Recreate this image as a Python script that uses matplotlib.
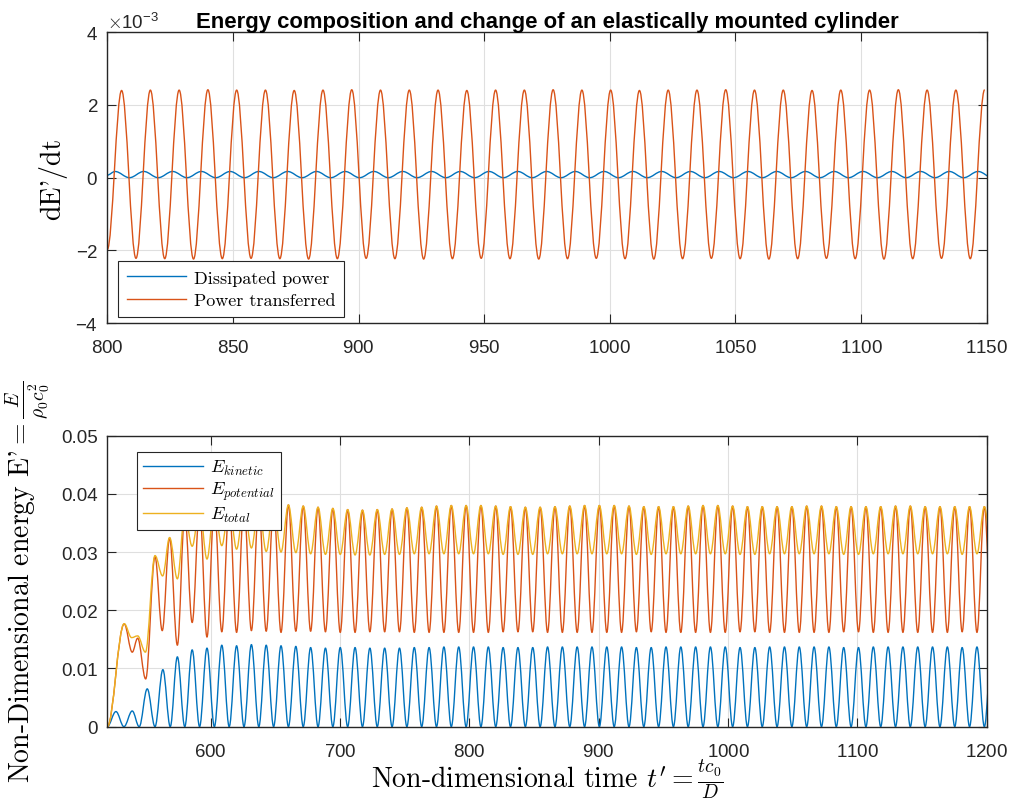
import numpy as np
import matplotlib
matplotlib.use("Agg")
import matplotlib.pyplot as plt
from matplotlib.path import Path
from matplotlib.patches import PathPatch
from matplotlib.lines import Line2D
from matplotlib.ticker import FuncFormatter

plt.rcParams['font.family'] = 'Liberation Sans'
plt.rcParams['mathtext.fontset'] = 'cm'
plt.rcParams['axes.formatter.use_mathtext'] = True

BLUE, ORANGE, YELLOW = '#0072BD', '#D95319', '#EDB120'
HALF = 5.725  # half period of the oscillation (time units)

# ---- power balance, 800 < t < 1150 (values in units of 1e-3) ----
pt_start = (800.0, -1.98)
pt_t0 = 805.7
pt_pk = [2.40, 2.41, 2.41, 2.42, 2.41, 2.41, 2.40, 2.41, 2.42, 2.41,
         2.41, 2.41, 2.40, 2.41, 2.41, 2.42, 2.41, 2.41, 2.40, 2.41,
         2.41, 2.42, 2.41, 2.41, 2.40, 2.41, 2.41, 2.42, 2.41, 2.41, 2.42]
pt_tr = [-2.22, -2.23, -2.24, -2.23, -2.22, -2.23, -2.24, -2.23, -2.22, -2.23,
         -2.24, -2.23, -2.22, -2.23, -2.24, -2.23, -2.22, -2.23, -2.24, -2.23,
         -2.22, -2.23, -2.24, -2.23, -2.22, -2.23, -2.24, -2.23, -2.22, -2.23]

dp_start = (800.0, 0.07)
dp_t0 = 803.1
dp_pk = [0.17, 0.17, 0.17, 0.17, 0.17, 0.17, 0.17, 0.17, 0.17, 0.17,
         0.17, 0.17, 0.17, 0.17, 0.17, 0.17, 0.17, 0.17, 0.17, 0.17,
         0.17, 0.17, 0.17, 0.17, 0.17, 0.17, 0.17, 0.17, 0.17, 0.17, 0.17]
dp_tr = [0.0, 0.0, 0.0, 0.0, 0.0, 0.0, 0.0, 0.0, 0.0, 0.0,
         0.0, 0.0, 0.0, 0.0, 0.0, 0.0, 0.0, 0.0, 0.0, 0.0,
         0.0, 0.0, 0.0, 0.0, 0.0, 0.0, 0.0, 0.0, 0.0, 0.0, 0.0]

# ---- energies, 520 < t < 1200 ----
# start-up transient (extrema)
ke_t_start = [520.0, 526.7, 532.9, 539.3, 544.7, 550.9, 556.9, 563.0, 568.7]
ke_start = [0.0, 0.0026, 0.0, 0.0027, 0.0, 0.0065, 0.0, 0.0098, 0.0]
pe_t_start = [520.0, 533.1, 539.3, 543.5, 549.7, 556.9, 562.5, 568.2]
pe_start = [0.0, 0.01765, 0.0128, 0.0152, 0.0082, 0.0292, 0.0165, 0.0324]
te_t_start = [520.0, 533.1, 538.8, 543.5, 549.5, 556.9, 562.8, 568.2]
te_start = [0.0, 0.0177, 0.0153, 0.0156, 0.0128, 0.0294, 0.0259, 0.0325]

# regular cycles from t = 574.2 on (kinetic maxima / potential minima first)
cyc_t0 = 574.2
ke_pk = [0.0120, 0.0132, 0.0135, 0.0140, 0.0139, 0.0141, 0.0140, 0.0139, 0.0138, 0.0136,
         0.0135, 0.0136, 0.0136, 0.0135, 0.0135, 0.0135, 0.0136, 0.0136, 0.0137, 0.0137,
         0.0137, 0.0137, 0.0136, 0.0136, 0.0136, 0.0137, 0.0137, 0.0137, 0.0137, 0.0137,
         0.0137, 0.0136, 0.0136, 0.0137, 0.0137, 0.0137, 0.0137, 0.0137, 0.0136, 0.0136,
         0.0137, 0.0137, 0.0137, 0.0137, 0.0137, 0.0136, 0.0136, 0.0137, 0.0137, 0.0137,
         0.0137, 0.0137, 0.0137, 0.0136, 0.0137, 0.0137]
ke_tr = [0.0, 0.0, 0.0, 0.0, 0.0, 0.0, 0.0, 0.0, 0.0, 0.0, 0.0,
         0.0, 0.0, 0.0, 0.0, 0.0, 0.0, 0.0, 0.0, 0.0, 0.0, 0.0,
         0.0, 0.0, 0.0, 0.0, 0.0, 0.0, 0.0, 0.0, 0.0, 0.0, 0.0,
         0.0, 0.0, 0.0, 0.0, 0.0, 0.0, 0.0, 0.0, 0.0, 0.0, 0.0,
         0.0, 0.0, 0.0, 0.0, 0.0, 0.0, 0.0, 0.0, 0.0, 0.0, 0.0]
pe_tr = [0.0140, 0.0179, 0.0154, 0.0163, 0.0162, 0.0165, 0.0164, 0.0162, 0.0164, 0.0164,
         0.0163, 0.0162, 0.0162, 0.0163, 0.0163, 0.0163, 0.0162, 0.0162, 0.0162, 0.0162,
         0.0162, 0.0162, 0.0163, 0.0163, 0.0163, 0.0162, 0.0162, 0.0162, 0.0162, 0.0162,
         0.0162, 0.0163, 0.0163, 0.0162, 0.0162, 0.0162, 0.0162, 0.0162, 0.0163, 0.0163,
         0.0162, 0.0162, 0.0162, 0.0162, 0.0162, 0.0163, 0.0163, 0.0162, 0.0162, 0.0162,
         0.0162, 0.0162, 0.0162, 0.0163, 0.0162, 0.0162]
pe_pk = [0.0365, 0.0376, 0.0380, 0.0382, 0.0383, 0.0382, 0.0381, 0.0381, 0.0379, 0.0377,
         0.0375, 0.0373, 0.0372, 0.0373, 0.0374, 0.0376, 0.0377, 0.0379, 0.0380, 0.0380,
         0.0380, 0.0379, 0.0378, 0.0377, 0.0377, 0.0378, 0.0379, 0.0380, 0.0380, 0.0380,
         0.0379, 0.0378, 0.0378, 0.0378, 0.0379, 0.0380, 0.0380, 0.0379, 0.0378, 0.0378,
         0.0378, 0.0378, 0.0379, 0.0379, 0.0378, 0.0378, 0.0378, 0.0378, 0.0379, 0.0379,
         0.0378, 0.0378, 0.0378, 0.0378, 0.0378]
te_tr = [0.0254, 0.0310, 0.0288, 0.0311, 0.0305, 0.0307, 0.0301, 0.0300, 0.0299, 0.0297,
         0.0296, 0.0296, 0.0295, 0.0295, 0.0296, 0.0296, 0.0297, 0.0297, 0.0297, 0.0297,
         0.0297, 0.0297, 0.0296, 0.0296, 0.0296, 0.0297, 0.0297, 0.0297, 0.0297, 0.0297,
         0.0297, 0.0296, 0.0296, 0.0297, 0.0297, 0.0297, 0.0297, 0.0297, 0.0296, 0.0296,
         0.0297, 0.0297, 0.0297, 0.0297, 0.0297, 0.0296, 0.0296, 0.0297, 0.0297, 0.0297,
         0.0297, 0.0297, 0.0297, 0.0296, 0.0297, 0.0297]
te_pk = pe_pk  # kinetic part is zero at these instants


def interleave(a, b):
    out = np.empty(len(a) + len(b))
    out[0::2] = a
    out[1::2] = b
    return out


def extrema_series(t0, first, second, t_head=(), y_head=()):
    vals = interleave(first, second)
    t = t0 + HALF * np.arange(len(vals))
    return np.r_[t_head, t], np.r_[y_head, vals]


def smooth_line(ax, t, y, color, lw=1.0):
    # cubic segments with flat tangents at each extremum
    verts = [(t[0], y[0])]
    for i in range(1, len(t)):
        d = 0.364 * (t[i] - t[i - 1])
        verts += [(t[i - 1] + d, y[i - 1]), (t[i] - d, y[i]), (t[i], y[i])]
    codes = [Path.MOVETO] + [Path.CURVE4] * (3 * (len(t) - 1))
    ax.add_patch(PathPatch(Path(verts, codes), fill=False, edgecolor=color,
                           lw=lw, joinstyle='round'))


def style_axes(ax):
    ax.tick_params(direction='in', top=True, right=True, length=6.5, width=0.8,
                   labelsize=13.5, colors='#262626')
    ax.tick_params(axis='x', pad=11.5)
    ax.tick_params(axis='y', pad=6.5)
    for s in ax.spines.values():
        s.set_color('#262626')
        s.set_linewidth(1.0)
    ax.grid(True, color='#dfdfdf', lw=0.8)
    ax.set_axisbelow(True)


fig = plt.figure(figsize=(10.13, 8.03), dpi=100)
ax1 = fig.add_axes([0.1059, 0.5965, 0.8681, 0.3620])
ax2 = fig.add_axes([0.1059, 0.0938, 0.8681, 0.3624])

# top panel
t_dp, y_dp = extrema_series(dp_t0, dp_pk, dp_tr, [dp_start[0]], [dp_start[1]])
t_pt, y_pt = extrema_series(pt_t0, pt_pk, pt_tr, [pt_start[0]], [pt_start[1]])
smooth_line(ax1, t_dp, y_dp * 1e-3, BLUE)
smooth_line(ax1, t_pt, y_pt * 1e-3, ORANGE)
ax1.set_xlim(800, 1150)
ax1.set_ylim(-4e-3, 4e-3)
ax1.set_xticks(np.arange(800, 1151, 50))
ax1.set_yticks(np.arange(-4e-3, 4.1e-3, 2e-3))
ax1.ticklabel_format(axis='y', style='sci', scilimits=(-3, -3), useMathText=True)
ax1.yaxis.get_offset_text().set_fontsize(13.5)
ax1.yaxis.get_offset_text().set_color('#262626')
style_axes(ax1)
ax1.set_title('Energy composition and change of an elastically mounted cylinder',
              fontweight='bold', fontsize=15.9, pad=4)
ax1.set_ylabel("dE'/dt", fontfamily='cmr10', fontsize=20)
ax1.yaxis.set_label_coords(-0.046, 0.5)
h1 = [Line2D([], [], color=BLUE, lw=1.0), Line2D([], [], color=ORANGE, lw=1.0)]
leg1 = ax1.legend(h1, ['Dissipated power', 'Power transferred'], loc='lower left',
                  bbox_to_anchor=(0.012, 0.021), borderaxespad=0,
                  prop={'family': 'cmr10', 'size': 13}, fancybox=False,
                  framealpha=1, edgecolor='#262626', handlelength=3.3,
                  handletextpad=0.4, labelspacing=0.36, borderpad=0.5)
leg1.get_frame().set_linewidth(0.8)

# bottom panel
t_ke, y_ke = extrema_series(cyc_t0, ke_pk, ke_tr, ke_t_start, ke_start)
t_pe, y_pe = extrema_series(cyc_t0, pe_tr, pe_pk, pe_t_start, pe_start)
t_te, y_te = extrema_series(cyc_t0, te_tr, te_pk, te_t_start, te_start)
smooth_line(ax2, t_ke, y_ke, BLUE)
smooth_line(ax2, t_pe, y_pe, ORANGE)
smooth_line(ax2, t_te, y_te, YELLOW)
ax2.set_xlim(520, 1200)
ax2.set_ylim(0, 0.05)
ax2.set_xticks(np.arange(600, 1201, 100))
ax2.set_yticks(np.arange(0, 0.051, 0.01))
ax2.yaxis.set_major_formatter(FuncFormatter(lambda v, _: f'{v:g}'))
style_axes(ax2)
ax2.set_xlabel(r"Non-dimensional time $t' = \frac{tc_0}{D}$",
               fontfamily='cmr10', fontsize=20)
ax2.xaxis.set_label_coords(0.5, -0.108)
ax2.set_ylabel(r"Non-Dimensional energy E'$=\frac{E}{\rho_0 c_0^2}$",
               fontfamily='cmr10', fontsize=20)
ax2.yaxis.set_label_coords(-0.062, 0.5)
h2 = [Line2D([], [], color=c, lw=1.0) for c in (BLUE, ORANGE, YELLOW)]
leg2 = ax2.legend(h2, [r'$E_{kinetic}$', r'$E_{potential}$', r'$E_{total}$'],
                  loc='upper left', bbox_to_anchor=(0.034, 0.944), borderaxespad=0,
                  prop={'size': 13}, fancybox=False, framealpha=1,
                  edgecolor='#262626', handlelength=3.3, handletextpad=0.4,
                  labelspacing=0.15, borderpad=0.35)
leg2.get_frame().set_linewidth(0.8)

fig.savefig('out.png', dpi=100)
